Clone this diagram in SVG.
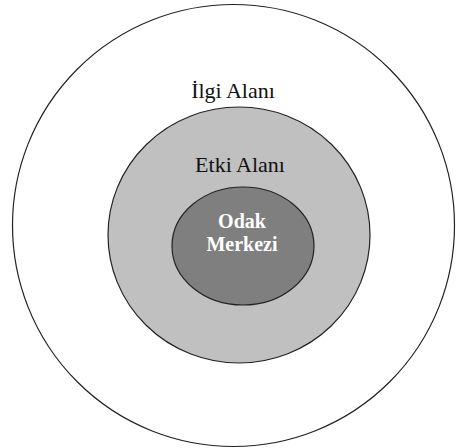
<svg xmlns="http://www.w3.org/2000/svg" width="456" height="448" viewBox="0 0 456 448">
<style>
.ring{stroke:#222;stroke-width:1.2}
.lbl{font-family:"Liberation Serif",serif;font-size:22px;fill:#111;text-anchor:middle}
.core{font-family:"Liberation Serif",serif;font-size:20px;font-weight:bold;fill:#fff;text-anchor:middle}
</style>
<rect width="456" height="448" fill="#fff"/>
<g id="ilgi-alani">
<ellipse class="ring" cx="233.5" cy="225.5" rx="221" ry="221" fill="#fff"/>
<text class="lbl" x="233" y="98">İlgi Alanı</text>
</g>
<g id="etki-alani">
<ellipse class="ring" cx="239" cy="235" rx="131" ry="128" fill="#c0c0c0"/>
<text class="lbl" x="240" y="172">Etki Alanı</text>
</g>
<g id="odak-merkezi">
<ellipse class="ring" cx="243" cy="246" rx="71" ry="59" fill="#7f7f7f"/>
<text class="core" x="242" y="228">Odak</text>
<text class="core" x="242" y="251">Merkezi</text>
</g>
<g id="connectors"/>
</svg>
